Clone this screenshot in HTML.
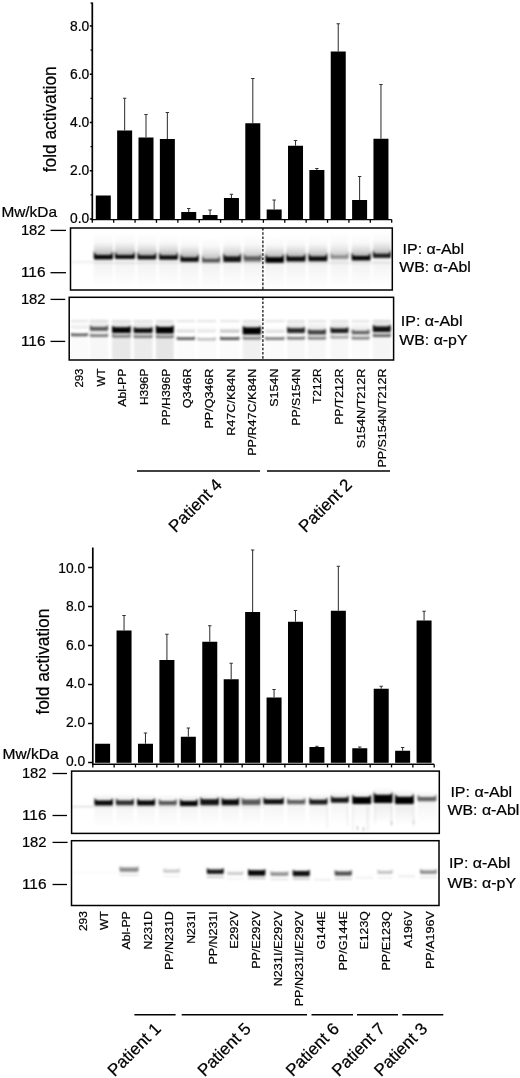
<!DOCTYPE html>
<html lang="en"><head><meta charset="utf-8"><title>Abl mutants: fold activation and Western blots</title>
<style>html,body{margin:0;padding:0;background:#fff}svg{display:block}text{font-family:"Liberation Sans", Arial, Helvetica, sans-serif;fill:#000;stroke:#000;stroke-width:0.22px}</style></head><body>
<svg width="520" height="1078" viewBox="0 0 520 1078">
<rect width="520" height="1078" fill="#fff"/>
<defs>
<filter id="b1" x="-5%" y="-5%" width="110%" height="110%"><feGaussianBlur stdDeviation="0.9"/></filter>
<linearGradient id="gup" x1="0" y1="0" x2="0" y2="1"><stop offset="0" stop-color="#000" stop-opacity="0"/><stop offset="0.55" stop-color="#000" stop-opacity="0.35"/><stop offset="1" stop-color="#000" stop-opacity="1"/></linearGradient>
<linearGradient id="gdn" x1="0" y1="0" x2="0" y2="1"><stop offset="0" stop-color="#000" stop-opacity="1"/><stop offset="1" stop-color="#000" stop-opacity="0"/></linearGradient>
</defs>
<g id="chart-top">
<line x1="92.3" y1="2.5" x2="92.3" y2="220.25" stroke="#000" stroke-width="1.7"/>
<line x1="91.5" y1="219.6" x2="391.7" y2="219.6" stroke="#000" stroke-width="1.4"/>
<line x1="89.8" y1="219.0" x2="92.3" y2="219.0" stroke="#000" stroke-width="1.5"/>
<text x="89.2" y="223.2" font-size="13.8" text-anchor="end">0.0</text>
<line x1="89.8" y1="170.74" x2="92.3" y2="170.74" stroke="#000" stroke-width="1.5"/>
<text x="89.2" y="175.26" font-size="13.8" text-anchor="end">2.0</text>
<line x1="89.8" y1="122.48" x2="92.3" y2="122.48" stroke="#000" stroke-width="1.5"/>
<text x="89.2" y="127.32" font-size="13.8" text-anchor="end">4.0</text>
<line x1="89.8" y1="74.22" x2="92.3" y2="74.22" stroke="#000" stroke-width="1.5"/>
<text x="89.2" y="79.38" font-size="13.8" text-anchor="end">6.0</text>
<line x1="89.8" y1="25.960000000000008" x2="92.3" y2="25.960000000000008" stroke="#000" stroke-width="1.5"/>
<text x="89.2" y="31.44" font-size="13.8" text-anchor="end">8.0</text>
<line x1="90.5" y1="194.87" x2="92.3" y2="194.87" stroke="#000" stroke-width="1.2"/>
<line x1="90.5" y1="146.61" x2="92.3" y2="146.61" stroke="#000" stroke-width="1.2"/>
<line x1="90.5" y1="98.35000000000001" x2="92.3" y2="98.35000000000001" stroke="#000" stroke-width="1.2"/>
<line x1="90.5" y1="50.09" x2="92.3" y2="50.09" stroke="#000" stroke-width="1.2"/>
<line x1="90.5" y1="3.1" x2="92.3" y2="3.1" stroke="#000" stroke-width="1.2"/>
<line x1="92.3" y1="219.6" x2="92.3" y2="222.79999999999998" stroke="#000" stroke-width="1.3"/>
<line x1="113.69" y1="219.6" x2="113.69" y2="222.79999999999998" stroke="#000" stroke-width="1.3"/>
<line x1="135.07" y1="219.6" x2="135.07" y2="222.79999999999998" stroke="#000" stroke-width="1.3"/>
<line x1="156.46" y1="219.6" x2="156.46" y2="222.79999999999998" stroke="#000" stroke-width="1.3"/>
<line x1="177.84" y1="219.6" x2="177.84" y2="222.79999999999998" stroke="#000" stroke-width="1.3"/>
<line x1="199.23" y1="219.6" x2="199.23" y2="222.79999999999998" stroke="#000" stroke-width="1.3"/>
<line x1="220.61" y1="219.6" x2="220.61" y2="222.79999999999998" stroke="#000" stroke-width="1.3"/>
<line x1="242.0" y1="219.6" x2="242.0" y2="222.79999999999998" stroke="#000" stroke-width="1.3"/>
<line x1="263.39" y1="219.6" x2="263.39" y2="222.79999999999998" stroke="#000" stroke-width="1.3"/>
<line x1="284.77" y1="219.6" x2="284.77" y2="222.79999999999998" stroke="#000" stroke-width="1.3"/>
<line x1="306.16" y1="219.6" x2="306.16" y2="222.79999999999998" stroke="#000" stroke-width="1.3"/>
<line x1="327.54" y1="219.6" x2="327.54" y2="222.79999999999998" stroke="#000" stroke-width="1.3"/>
<line x1="348.93" y1="219.6" x2="348.93" y2="222.79999999999998" stroke="#000" stroke-width="1.3"/>
<line x1="370.31" y1="219.6" x2="370.31" y2="222.79999999999998" stroke="#000" stroke-width="1.3"/>
<line x1="391.7" y1="219.6" x2="391.7" y2="222.79999999999998" stroke="#000" stroke-width="1.3"/>
<rect x="95.78" y="195.5" width="15" height="23.80" fill="#000"/>
<rect x="117.14" y="130.5" width="15" height="88.80" fill="#000"/>
<line x1="124.64" y1="98.25" x2="124.64" y2="130.5" stroke="#333" stroke-width="1.05"/>
<line x1="122.94" y1="98.25" x2="126.34" y2="98.25" stroke="#333" stroke-width="1.0"/>
<rect x="138.50" y="137.5" width="15" height="81.80" fill="#000"/>
<line x1="146.0" y1="114.5" x2="146.0" y2="137.5" stroke="#333" stroke-width="1.05"/>
<line x1="144.3" y1="114.5" x2="147.7" y2="114.5" stroke="#333" stroke-width="1.0"/>
<rect x="159.86" y="139" width="15" height="80.30" fill="#000"/>
<line x1="167.36" y1="112.5" x2="167.36" y2="139" stroke="#333" stroke-width="1.05"/>
<line x1="165.66" y1="112.5" x2="169.06" y2="112.5" stroke="#333" stroke-width="1.0"/>
<rect x="181.22" y="212" width="15" height="7.30" fill="#000"/>
<line x1="188.72" y1="208.5" x2="188.72" y2="212" stroke="#333" stroke-width="1.05"/>
<line x1="187.02" y1="208.5" x2="190.42" y2="208.5" stroke="#333" stroke-width="1.0"/>
<rect x="202.58" y="215" width="15" height="4.30" fill="#000"/>
<line x1="210.08" y1="210" x2="210.08" y2="215" stroke="#333" stroke-width="1.05"/>
<line x1="208.38" y1="210" x2="211.78" y2="210" stroke="#333" stroke-width="1.0"/>
<rect x="223.94" y="198" width="15" height="21.30" fill="#000"/>
<line x1="231.44" y1="194.25" x2="231.44" y2="198" stroke="#333" stroke-width="1.05"/>
<line x1="229.74" y1="194.25" x2="233.14" y2="194.25" stroke="#333" stroke-width="1.0"/>
<rect x="245.30" y="123.25" width="15" height="96.05" fill="#000"/>
<line x1="252.8" y1="78.5" x2="252.8" y2="123.25" stroke="#333" stroke-width="1.05"/>
<line x1="251.1" y1="78.5" x2="254.5" y2="78.5" stroke="#333" stroke-width="1.0"/>
<rect x="266.66" y="209.5" width="15" height="9.80" fill="#000"/>
<line x1="274.16" y1="200" x2="274.16" y2="209.5" stroke="#333" stroke-width="1.05"/>
<line x1="272.46" y1="200" x2="275.86" y2="200" stroke="#333" stroke-width="1.0"/>
<rect x="288.02" y="145.75" width="15" height="73.55" fill="#000"/>
<line x1="295.52" y1="140.5" x2="295.52" y2="145.75" stroke="#333" stroke-width="1.05"/>
<line x1="293.82" y1="140.5" x2="297.22" y2="140.5" stroke="#333" stroke-width="1.0"/>
<rect x="309.38" y="170" width="15" height="49.30" fill="#000"/>
<line x1="316.88" y1="168.5" x2="316.88" y2="170" stroke="#333" stroke-width="1.05"/>
<line x1="315.18" y1="168.5" x2="318.58" y2="168.5" stroke="#333" stroke-width="1.0"/>
<rect x="330.74" y="51.5" width="15" height="167.80" fill="#000"/>
<line x1="338.24" y1="23.75" x2="338.24" y2="51.5" stroke="#333" stroke-width="1.05"/>
<line x1="336.54" y1="23.75" x2="339.94" y2="23.75" stroke="#333" stroke-width="1.0"/>
<rect x="352.10" y="200" width="15" height="19.30" fill="#000"/>
<line x1="359.6" y1="176.5" x2="359.6" y2="200" stroke="#333" stroke-width="1.05"/>
<line x1="357.9" y1="176.5" x2="361.3" y2="176.5" stroke="#333" stroke-width="1.0"/>
<rect x="373.46" y="138.75" width="15" height="80.55" fill="#000"/>
<line x1="380.96" y1="84.5" x2="380.96" y2="138.75" stroke="#333" stroke-width="1.05"/>
<line x1="379.26" y1="84.5" x2="382.66" y2="84.5" stroke="#333" stroke-width="1.0"/>
<text transform="translate(56.2 172.3) rotate(-90)" font-size="17.7" text-anchor="start" textLength="106" lengthAdjust="spacingAndGlyphs">fold activation</text>
<text x="1.4" y="216.7" font-size="14.6" text-anchor="start" textLength="55.6" lengthAdjust="spacingAndGlyphs">Mw/kDa</text>
</g>
<g id="blot-top-1">
<clipPath id="cp1"><rect x="70.5" y="228" width="321.8" height="62"/></clipPath>
<g clip-path="url(#cp1)"><g filter="url(#b1)">
<rect x="93.8" y="232.3" width="19.2" height="25" fill="url(#gup)" opacity="0.10"/>
<rect x="93.80" y="242.30" width="19.200000000000003" height="15" fill="url(#gup)" opacity="0.33"/>
<rect x="93.80" y="257.30" width="19.200000000000003" height="30" fill="url(#gdn)" opacity="0.06"/>
<path d="M93.80 250.85 Q94.70 255.05 97.40 255.05 L109.40 255.05 Q112.10 255.05 113.00 250.85 L113.00 258.55 Q113.00 259.55 112.00 259.55 L94.80 259.55 Q93.80 259.55 93.80 258.55 Z" fill="#000" opacity="0.97"/>
<rect x="114.8" y="231.9" width="20.2" height="25" fill="url(#gup)" opacity="0.10"/>
<rect x="114.80" y="241.90" width="20.200000000000003" height="15" fill="url(#gup)" opacity="0.32"/>
<rect x="114.80" y="256.90" width="20.200000000000003" height="30" fill="url(#gdn)" opacity="0.06"/>
<path d="M114.80 250.70 Q115.70 254.90 118.40 254.90 L131.40 254.90 Q134.10 254.90 135.00 250.70 L135.00 257.90 Q135.00 258.90 134.00 258.90 L115.80 258.90 Q114.80 258.90 114.80 257.90 Z" fill="#000" opacity="0.93"/>
<rect x="137.4" y="232.5" width="19.0" height="25" fill="url(#gup)" opacity="0.10"/>
<rect x="137.40" y="242.50" width="19.0" height="15" fill="url(#gup)" opacity="0.32"/>
<rect x="137.40" y="257.50" width="19.0" height="30" fill="url(#gdn)" opacity="0.06"/>
<path d="M137.40 251.30 Q138.30 255.50 141.00 255.50 L152.80 255.50 Q155.50 255.50 156.40 251.30 L156.40 258.50 Q156.40 259.50 155.40 259.50 L138.40 259.50 Q137.40 259.50 137.40 258.50 Z" fill="#000" opacity="0.93"/>
<rect x="159.0" y="232.7" width="19.0" height="25" fill="url(#gup)" opacity="0.10"/>
<rect x="159.00" y="242.70" width="19" height="15" fill="url(#gup)" opacity="0.33"/>
<rect x="159.00" y="257.70" width="19" height="30" fill="url(#gdn)" opacity="0.06"/>
<path d="M159.00 251.40 Q159.90 255.60 162.60 255.60 L174.40 255.60 Q177.10 255.60 178.00 251.40 L178.00 258.80 Q178.00 259.80 177.00 259.80 L160.00 259.80 Q159.00 259.80 159.00 258.80 Z" fill="#000" opacity="0.95"/>
<rect x="180.3" y="234.6" width="18.5" height="25" fill="url(#gup)" opacity="0.10"/>
<rect x="180.30" y="244.60" width="18.5" height="15" fill="url(#gup)" opacity="0.33"/>
<rect x="180.30" y="259.60" width="18.5" height="30" fill="url(#gdn)" opacity="0.06"/>
<path d="M180.30 253.20 Q181.20 257.40 183.90 257.40 L195.20 257.40 Q197.90 257.40 198.80 253.20 L198.80 260.80 Q198.80 261.80 197.80 261.80 L181.30 261.80 Q180.30 261.80 180.30 260.80 Z" fill="#000" opacity="0.95"/>
<rect x="202.0" y="235.8" width="18.2" height="25" fill="url(#gup)" opacity="0.10"/>
<rect x="202.00" y="245.80" width="18.19999999999999" height="15" fill="url(#gup)" opacity="0.23"/>
<rect x="202.00" y="260.80" width="18.19999999999999" height="30" fill="url(#gdn)" opacity="0.06"/>
<path d="M202.00 254.80 Q202.90 259.00 205.60 259.00 L216.60 259.00 Q219.30 259.00 220.20 254.80 L220.20 261.60 Q220.20 262.60 219.20 262.60 L203.00 262.60 Q202.00 262.60 202.00 261.60 Z" fill="#000" opacity="0.58"/>
<rect x="223.2" y="234.2" width="18.0" height="25" fill="url(#gup)" opacity="0.10"/>
<rect x="223.20" y="244.20" width="18.0" height="15" fill="url(#gup)" opacity="0.31"/>
<rect x="223.20" y="259.20" width="18.0" height="30" fill="url(#gdn)" opacity="0.06"/>
<path d="M223.20 252.20 Q224.10 256.40 226.80 256.40 L237.60 256.40 Q240.30 256.40 241.20 252.20 L241.20 261.00 Q241.20 262.00 240.20 262.00 L224.20 262.00 Q223.20 262.00 223.20 261.00 Z" fill="#000" opacity="0.90"/>
<rect x="243.6" y="234.0" width="18.0" height="25" fill="url(#gup)" opacity="0.10"/>
<rect x="243.60" y="244.00" width="18.00000000000003" height="15" fill="url(#gup)" opacity="0.22"/>
<rect x="243.60" y="259.00" width="18.00000000000003" height="30" fill="url(#gdn)" opacity="0.06"/>
<path d="M243.60 252.20 Q244.50 256.40 247.20 256.40 L258.00 256.40 Q260.70 256.40 261.60 252.20 L261.60 260.60 Q261.60 261.60 260.60 261.60 L244.60 261.60 Q243.60 261.60 243.60 260.60 Z" fill="#000" opacity="0.55"/>
<rect x="265.3" y="235.0" width="18.7" height="25" fill="url(#gup)" opacity="0.10"/>
<rect x="265.30" y="245.00" width="18.69999999999999" height="15" fill="url(#gup)" opacity="0.34"/>
<rect x="265.30" y="260.00" width="18.69999999999999" height="30" fill="url(#gdn)" opacity="0.06"/>
<path d="M265.30 253.00 Q266.20 257.20 268.90 257.20 L280.40 257.20 Q283.10 257.20 284.00 253.00 L284.00 261.80 Q284.00 262.80 283.00 262.80 L266.30 262.80 Q265.30 262.80 265.30 261.80 Z" fill="#000" opacity="1.00"/>
<rect x="286.2" y="234.2" width="19.4" height="25" fill="url(#gup)" opacity="0.10"/>
<rect x="286.20" y="244.20" width="19.400000000000034" height="15" fill="url(#gup)" opacity="0.33"/>
<rect x="286.20" y="259.20" width="19.400000000000034" height="30" fill="url(#gdn)" opacity="0.06"/>
<path d="M286.20 252.60 Q287.10 256.80 289.80 256.80 L302.00 256.80 Q304.70 256.80 305.60 252.60 L305.60 260.60 Q305.60 261.60 304.60 261.60 L287.20 261.60 Q286.20 261.60 286.20 260.60 Z" fill="#000" opacity="0.95"/>
<rect x="308.4" y="233.8" width="19.0" height="25" fill="url(#gup)" opacity="0.10"/>
<rect x="308.40" y="243.80" width="19.0" height="15" fill="url(#gup)" opacity="0.33"/>
<rect x="308.40" y="258.80" width="19.0" height="30" fill="url(#gdn)" opacity="0.06"/>
<path d="M308.40 252.20 Q309.30 256.40 312.00 256.40 L323.80 256.40 Q326.50 256.40 327.40 252.20 L327.40 260.20 Q327.40 261.20 326.40 261.20 L309.40 261.20 Q308.40 261.20 308.40 260.20 Z" fill="#000" opacity="0.95"/>
<rect x="330.4" y="232.4" width="18.2" height="25" fill="url(#gup)" opacity="0.10"/>
<rect x="330.40" y="242.40" width="18.200000000000045" height="15" fill="url(#gup)" opacity="0.17"/>
<rect x="330.40" y="257.40" width="18.200000000000045" height="30" fill="url(#gdn)" opacity="0.06"/>
<path d="M330.40 251.30 Q331.30 255.50 334.00 255.50 L345.00 255.50 Q347.70 255.50 348.60 251.30 L348.60 258.30 Q348.60 259.30 347.60 259.30 L331.40 259.30 Q330.40 259.30 330.40 258.30 Z" fill="#000" opacity="0.33"/>
<rect x="351.6" y="233.2" width="19.0" height="25" fill="url(#gup)" opacity="0.10"/>
<rect x="351.60" y="243.20" width="19.0" height="15" fill="url(#gup)" opacity="0.33"/>
<rect x="351.60" y="258.20" width="19.0" height="30" fill="url(#gdn)" opacity="0.06"/>
<path d="M351.60 251.70 Q352.50 255.90 355.20 255.90 L367.00 255.90 Q369.70 255.90 370.60 251.70 L370.60 259.50 Q370.60 260.50 369.60 260.50 L352.60 260.50 Q351.60 260.50 351.60 259.50 Z" fill="#000" opacity="0.97"/>
<rect x="372.8" y="230.8" width="18.2" height="25" fill="url(#gup)" opacity="0.10"/>
<rect x="372.80" y="240.80" width="18.19999999999999" height="15" fill="url(#gup)" opacity="0.30"/>
<rect x="372.80" y="255.80" width="18.19999999999999" height="30" fill="url(#gdn)" opacity="0.06"/>
<path d="M372.80 249.50 Q373.70 253.70 376.40 253.70 L387.40 253.70 Q390.10 253.70 391.00 249.50 L391.00 256.90 Q391.00 257.90 390.00 257.90 L373.80 257.90 Q372.80 257.90 372.80 256.90 Z" fill="#000" opacity="0.85"/>
<rect x="72" y="261.6" width="21" height="1" fill="#000" opacity="0.14"/>
<rect x="93" y="262.4" width="298" height="1" fill="#000" opacity="0.16"/>
</g></g>
<line x1="262.9" y1="228" x2="262.9" y2="290" stroke="#111" stroke-width="1.25" stroke-dasharray="2.6 1.6"/>
<rect x="70.5" y="228" width="321.8" height="62" fill="none" stroke="#000" stroke-width="1.5"/>
<text x="45.5" y="234.9" font-size="14.4" text-anchor="end" textLength="24.6" lengthAdjust="spacingAndGlyphs">182</text><line x1="50.5" y1="230.4" x2="66" y2="230.4" stroke="#000" stroke-width="1.3"/>
<text x="45.5" y="277.2" font-size="14.4" text-anchor="end" textLength="24.6" lengthAdjust="spacingAndGlyphs">116</text><line x1="50.5" y1="272.7" x2="66" y2="272.7" stroke="#000" stroke-width="1.3"/>
<text x="402.6" y="254.0" font-size="15.2" text-anchor="start" textLength="61.4" lengthAdjust="spacingAndGlyphs">IP: α-Abl</text><text x="399.3" y="272.1" font-size="15.2" text-anchor="start" textLength="71.6" lengthAdjust="spacingAndGlyphs">WB: α-Abl</text>
</g>
<g id="blot-top-2">
<clipPath id="cp2"><rect x="69.2" y="297.3" width="324.40000000000003" height="62.69999999999999"/></clipPath>
<g clip-path="url(#cp2)"><g filter="url(#b1)">
<rect x="71.0" y="334.3" width="17.0" height="25.7" fill="#000" opacity="0.015"/>
<rect x="71.0" y="320.2" width="17.0" height="1.8" fill="#000" opacity="0.12"/>
<path d="M71.00 332.80 Q71.90 333.60 74.60 333.60 L84.40 333.60 Q87.10 333.60 88.00 332.80 L88.00 335.20 Q88.00 336.20 87.00 336.20 L72.00 336.20 Q71.00 336.20 71.00 335.20 Z" fill="#000" opacity="0.62"/>
<rect x="71.00" y="321.60" width="17" height="6" fill="url(#gup)" opacity="0.06"/>
<path d="M71.00 326.30 Q71.90 326.80 74.60 326.80 L84.40 326.80 Q87.10 326.80 88.00 326.30 L88.00 327.40 Q88.00 328.40 87.00 328.40 L72.00 328.40 Q71.00 328.40 71.00 327.40 Z" fill="#000" opacity="0.08"/>
<rect x="89.8" y="335.0" width="18.4" height="25.0" fill="#000" opacity="0.030"/>
<rect x="89.8" y="320.2" width="18.4" height="1.8" fill="#000" opacity="0.12"/>
<path d="M89.80 333.50 Q90.70 334.30 93.40 334.30 L104.60 334.30 Q107.30 334.30 108.20 333.50 L108.20 335.90 Q108.20 336.90 107.20 336.90 L90.80 336.90 Q89.80 336.90 89.80 335.90 Z" fill="#000" opacity="0.50"/>
<rect x="89.80" y="317.80" width="18.400000000000006" height="11" fill="url(#gup)" opacity="0.18"/>
<rect x="89.80" y="328.80" width="18.400000000000006" height="6" fill="url(#gdn)" opacity="0.15"/>
<path d="M89.80 325.10 Q90.70 326.90 93.40 326.90 L104.60 326.90 Q107.30 326.90 108.20 325.10 L108.20 329.70 Q108.20 330.70 107.20 330.70 L90.80 330.70 Q89.80 330.70 89.80 329.70 Z" fill="#000" opacity="0.60"/>
<rect x="112.0" y="335.6" width="18.8" height="24.4" fill="#000" opacity="0.090"/>
<rect x="112.0" y="320.2" width="18.8" height="1.8" fill="#000" opacity="0.12"/>
<path d="M112.00 334.10 Q112.90 334.90 115.60 334.90 L127.20 334.90 Q129.90 334.90 130.80 334.10 L130.80 336.50 Q130.80 337.50 129.80 337.50 L113.00 337.50 Q112.00 337.50 112.00 336.50 Z" fill="#000" opacity="0.50"/>
<rect x="112.00" y="319.20" width="18.80000000000001" height="11" fill="url(#gup)" opacity="0.29"/>
<rect x="112.00" y="330.20" width="18.80000000000001" height="6" fill="url(#gdn)" opacity="0.24"/>
<path d="M112.00 325.50 Q112.90 327.30 115.60 327.30 L127.20 327.30 Q129.90 327.30 130.80 325.50 L130.80 332.10 Q130.80 333.10 129.80 333.10 L113.00 333.10 Q112.00 333.10 112.00 332.10 Z" fill="#000" opacity="0.98"/>
<rect x="133.6" y="336.0" width="19.0" height="24.0" fill="#000" opacity="0.080"/>
<rect x="133.6" y="320.2" width="19.0" height="1.8" fill="#000" opacity="0.12"/>
<path d="M133.60 334.50 Q134.50 335.30 137.20 335.30 L149.00 335.30 Q151.70 335.30 152.60 334.50 L152.60 336.90 Q152.60 337.90 151.60 337.90 L134.60 337.90 Q133.60 337.90 133.60 336.90 Z" fill="#000" opacity="0.48"/>
<rect x="133.60" y="319.60" width="19.0" height="11" fill="url(#gup)" opacity="0.28"/>
<rect x="133.60" y="330.60" width="19.0" height="6" fill="url(#gdn)" opacity="0.23"/>
<path d="M133.60 326.50 Q134.50 328.30 137.20 328.30 L149.00 328.30 Q151.70 328.30 152.60 326.50 L152.60 331.90 Q152.60 332.90 151.60 332.90 L134.60 332.90 Q133.60 332.90 133.60 331.90 Z" fill="#000" opacity="0.93"/>
<rect x="155.8" y="336.2" width="18.0" height="23.8" fill="#000" opacity="0.100"/>
<rect x="155.8" y="320.2" width="18.0" height="1.8" fill="#000" opacity="0.12"/>
<path d="M155.80 334.70 Q156.70 335.50 159.40 335.50 L170.20 335.50 Q172.90 335.50 173.80 334.70 L173.80 337.10 Q173.80 338.10 172.80 338.10 L156.80 338.10 Q155.80 338.10 155.80 337.10 Z" fill="#000" opacity="0.50"/>
<rect x="155.80" y="319.20" width="18.0" height="11" fill="url(#gup)" opacity="0.30"/>
<rect x="155.80" y="330.20" width="18.0" height="6" fill="url(#gdn)" opacity="0.25"/>
<path d="M155.80 325.10 Q156.70 326.90 159.40 326.90 L170.20 326.90 Q172.90 326.90 173.80 325.10 L173.80 332.50 Q173.80 333.50 172.80 333.50 L156.80 333.50 Q155.80 333.50 155.80 332.50 Z" fill="#000" opacity="1.00"/>
<rect x="176.7" y="338.0" width="18.3" height="22.0" fill="#000" opacity="0.015"/>
<rect x="176.7" y="320.2" width="18.3" height="1.8" fill="#000" opacity="0.12"/>
<path d="M176.70 336.50 Q177.60 337.30 180.30 337.30 L191.40 337.30 Q194.10 337.30 195.00 336.50 L195.00 338.90 Q195.00 339.90 194.00 339.90 L177.70 339.90 Q176.70 339.90 176.70 338.90 Z" fill="#000" opacity="0.62"/>
<rect x="176.70" y="325.30" width="18.30000000000001" height="6" fill="url(#gup)" opacity="0.06"/>
<path d="M176.70 329.50 Q177.60 330.00 180.30 330.00 L191.40 330.00 Q194.10 330.00 195.00 329.50 L195.00 331.60 Q195.00 332.60 194.00 332.60 L177.70 332.60 Q176.70 332.60 176.70 331.60 Z" fill="#000" opacity="0.12"/>
<rect x="197.2" y="338.6" width="18.8" height="21.4" fill="#000" opacity="0.015"/>
<rect x="197.2" y="320.2" width="18.8" height="1.8" fill="#000" opacity="0.12"/>
<path d="M197.20 337.10 Q198.10 337.90 200.80 337.90 L212.40 337.90 Q215.10 337.90 216.00 337.10 L216.00 339.50 Q216.00 340.50 215.00 340.50 L198.20 340.50 Q197.20 340.50 197.20 339.50 Z" fill="#000" opacity="0.25"/>
<rect x="197.20" y="325.30" width="18.80000000000001" height="6" fill="url(#gup)" opacity="0.06"/>
<path d="M197.20 329.50 Q198.10 330.00 200.80 330.00 L212.40 330.00 Q215.10 330.00 216.00 329.50 L216.00 331.60 Q216.00 332.60 215.00 332.60 L198.20 332.60 Q197.20 332.60 197.20 331.60 Z" fill="#000" opacity="0.07"/>
<rect x="220.0" y="338.0" width="19.5" height="22.0" fill="#000" opacity="0.015"/>
<rect x="220.0" y="320.2" width="19.5" height="1.8" fill="#000" opacity="0.12"/>
<path d="M220.00 336.50 Q220.90 337.30 223.60 337.30 L235.90 337.30 Q238.60 337.30 239.50 336.50 L239.50 338.90 Q239.50 339.90 238.50 339.90 L221.00 339.90 Q220.00 339.90 220.00 338.90 Z" fill="#000" opacity="0.66"/>
<rect x="220.00" y="325.30" width="19.5" height="6" fill="url(#gup)" opacity="0.06"/>
<path d="M220.00 329.30 Q220.90 329.80 223.60 329.80 L235.90 329.80 Q238.60 329.80 239.50 329.30 L239.50 331.80 Q239.50 332.80 238.50 332.80 L221.00 332.80 Q220.00 332.80 220.00 331.80 Z" fill="#000" opacity="0.20"/>
<rect x="242.7" y="337.7" width="18.3" height="22.3" fill="#000" opacity="0.060"/>
<rect x="242.7" y="320.2" width="18.3" height="1.8" fill="#000" opacity="0.12"/>
<path d="M242.70 336.20 Q243.60 337.00 246.30 337.00 L257.40 337.00 Q260.10 337.00 261.00 336.20 L261.00 338.60 Q261.00 339.60 260.00 339.60 L243.70 339.60 Q242.70 339.60 242.70 338.60 Z" fill="#000" opacity="0.50"/>
<rect x="242.70" y="320.00" width="18.30000000000001" height="11" fill="url(#gup)" opacity="0.30"/>
<rect x="242.70" y="331.00" width="18.30000000000001" height="6" fill="url(#gdn)" opacity="0.25"/>
<path d="M242.70 325.70 Q243.60 327.50 246.30 327.50 L257.40 327.50 Q260.10 327.50 261.00 325.70 L261.00 333.50 Q261.00 334.50 260.00 334.50 L243.70 334.50 Q242.70 334.50 242.70 333.50 Z" fill="#000" opacity="1.00"/>
<rect x="265.0" y="338.0" width="19.5" height="22.0" fill="#000" opacity="0.015"/>
<rect x="265.0" y="320.2" width="19.5" height="1.8" fill="#000" opacity="0.12"/>
<path d="M265.00 336.50 Q265.90 337.30 268.60 337.30 L280.90 337.30 Q283.60 337.30 284.50 336.50 L284.50 338.90 Q284.50 339.90 283.50 339.90 L266.00 339.90 Q265.00 339.90 265.00 338.90 Z" fill="#000" opacity="0.50"/>
<rect x="265.00" y="325.60" width="19.5" height="6" fill="url(#gup)" opacity="0.06"/>
<path d="M265.00 329.80 Q265.90 330.30 268.60 330.30 L280.90 330.30 Q283.60 330.30 284.50 329.80 L284.50 331.90 Q284.50 332.90 283.50 332.90 L266.00 332.90 Q265.00 332.90 265.00 331.90 Z" fill="#000" opacity="0.10"/>
<rect x="287.0" y="337.7" width="18.0" height="22.3" fill="#000" opacity="0.030"/>
<rect x="287.0" y="320.2" width="18.0" height="1.8" fill="#000" opacity="0.12"/>
<path d="M287.00 336.20 Q287.90 337.00 290.60 337.00 L301.40 337.00 Q304.10 337.00 305.00 336.20 L305.00 338.60 Q305.00 339.60 304.00 339.60 L288.00 339.60 Q287.00 339.60 287.00 338.60 Z" fill="#000" opacity="0.55"/>
<rect x="287.00" y="319.60" width="18" height="11" fill="url(#gup)" opacity="0.24"/>
<rect x="287.00" y="330.60" width="18" height="6" fill="url(#gdn)" opacity="0.20"/>
<path d="M287.00 326.50 Q287.90 328.30 290.60 328.30 L301.40 328.30 Q304.10 328.30 305.00 326.50 L305.00 331.90 Q305.00 332.90 304.00 332.90 L288.00 332.90 Q287.00 332.90 287.00 331.90 Z" fill="#000" opacity="0.80"/>
<rect x="307.8" y="337.7" width="18.2" height="22.3" fill="#000" opacity="0.030"/>
<rect x="307.8" y="320.2" width="18.2" height="1.8" fill="#000" opacity="0.12"/>
<path d="M307.80 336.20 Q308.70 337.00 311.40 337.00 L322.40 337.00 Q325.10 337.00 326.00 336.20 L326.00 338.60 Q326.00 339.60 325.00 339.60 L308.80 339.60 Q307.80 339.60 307.80 338.60 Z" fill="#000" opacity="0.50"/>
<rect x="307.80" y="321.30" width="18.19999999999999" height="11" fill="url(#gup)" opacity="0.21"/>
<rect x="307.80" y="332.30" width="18.19999999999999" height="6" fill="url(#gdn)" opacity="0.17"/>
<path d="M307.80 328.40 Q308.70 330.20 311.40 330.20 L322.40 330.20 Q325.10 330.20 326.00 328.40 L326.00 333.40 Q326.00 334.40 325.00 334.40 L308.80 334.40 Q307.80 334.40 307.80 333.40 Z" fill="#000" opacity="0.70"/>
<rect x="330.5" y="336.6" width="18.0" height="23.4" fill="#000" opacity="0.030"/>
<rect x="330.5" y="320.2" width="18.0" height="1.8" fill="#000" opacity="0.12"/>
<path d="M330.50 335.10 Q331.40 335.90 334.10 335.90 L344.90 335.90 Q347.60 335.90 348.50 335.10 L348.50 337.50 Q348.50 338.50 347.50 338.50 L331.50 338.50 Q330.50 338.50 330.50 337.50 Z" fill="#000" opacity="0.35"/>
<rect x="330.50" y="319.80" width="18.0" height="11" fill="url(#gup)" opacity="0.26"/>
<rect x="330.50" y="330.80" width="18.0" height="6" fill="url(#gdn)" opacity="0.21"/>
<path d="M330.50 326.70 Q331.40 328.50 334.10 328.50 L344.90 328.50 Q347.60 328.50 348.50 326.70 L348.50 332.10 Q348.50 333.10 347.50 333.10 L331.50 333.10 Q330.50 333.10 330.50 332.10 Z" fill="#000" opacity="0.86"/>
<rect x="351.6" y="337.7" width="18.0" height="22.3" fill="#000" opacity="0.020"/>
<rect x="351.6" y="320.2" width="18.0" height="1.8" fill="#000" opacity="0.12"/>
<path d="M351.60 336.20 Q352.50 337.00 355.20 337.00 L366.00 337.00 Q368.70 337.00 369.60 336.20 L369.60 338.60 Q369.60 339.60 368.60 339.60 L352.60 339.60 Q351.60 339.60 351.60 338.60 Z" fill="#000" opacity="0.50"/>
<rect x="351.60" y="321.60" width="18.0" height="11" fill="url(#gup)" opacity="0.17"/>
<rect x="351.60" y="332.60" width="18.0" height="6" fill="url(#gdn)" opacity="0.14"/>
<path d="M351.60 329.10 Q352.50 330.90 355.20 330.90 L366.00 330.90 Q368.70 330.90 369.60 329.10 L369.60 333.30 Q369.60 334.30 368.60 334.30 L352.60 334.30 Q351.60 334.30 351.60 333.30 Z" fill="#000" opacity="0.55"/>
<rect x="372.8" y="335.0" width="18.0" height="25.0" fill="#000" opacity="0.040"/>
<rect x="372.8" y="320.2" width="18.0" height="1.8" fill="#000" opacity="0.12"/>
<path d="M372.80 333.50 Q373.70 334.30 376.40 334.30 L387.20 334.30 Q389.90 334.30 390.80 333.50 L390.80 335.90 Q390.80 336.90 389.80 336.90 L373.80 336.90 Q372.80 336.90 372.80 335.90 Z" fill="#000" opacity="0.60"/>
<rect x="372.80" y="318.20" width="18.0" height="11" fill="url(#gup)" opacity="0.28"/>
<rect x="372.80" y="329.20" width="18.0" height="6" fill="url(#gdn)" opacity="0.23"/>
<path d="M372.80 324.60 Q373.70 326.40 376.40 326.40 L387.20 326.40 Q389.90 326.40 390.80 324.60 L390.80 331.00 Q390.80 332.00 389.80 332.00 L373.80 332.00 Q372.80 332.00 372.80 331.00 Z" fill="#000" opacity="0.92"/>
</g></g>
<line x1="262.9" y1="297.3" x2="262.9" y2="360" stroke="#111" stroke-width="1.25" stroke-dasharray="2.6 1.6"/>
<rect x="69.2" y="297.3" width="324.40000000000003" height="62.69999999999999" fill="none" stroke="#000" stroke-width="1.5"/>
<text x="45.5" y="303.9" font-size="14.4" text-anchor="end" textLength="24.6" lengthAdjust="spacingAndGlyphs">182</text><line x1="50.5" y1="299.4" x2="65.2" y2="299.4" stroke="#000" stroke-width="1.3"/>
<text x="45.5" y="345.9" font-size="14.4" text-anchor="end" textLength="24.6" lengthAdjust="spacingAndGlyphs">116</text><line x1="50.5" y1="341.4" x2="65.2" y2="341.4" stroke="#000" stroke-width="1.3"/>
<text x="400.8" y="325.6" font-size="15.2" text-anchor="start" textLength="61.7" lengthAdjust="spacingAndGlyphs">IP: α-Abl</text><text x="399.3" y="345.0" font-size="15.2" text-anchor="start" textLength="68.2" lengthAdjust="spacingAndGlyphs">WB: α-pY</text>
</g>
<g id="lanes-top">
<text transform="translate(83.0 368.6) rotate(-90)" font-size="11.6" text-anchor="end" textLength="18.9" lengthAdjust="spacingAndGlyphs">293</text>
<text transform="translate(104.66 368.6) rotate(-90)" font-size="11.6" text-anchor="end" textLength="17.8" lengthAdjust="spacingAndGlyphs">WT</text>
<text transform="translate(126.32 368.6) rotate(-90)" font-size="11.6" text-anchor="end" textLength="38.1" lengthAdjust="spacingAndGlyphs">Abl-PP</text>
<text transform="translate(147.98 368.6) rotate(-90)" font-size="11.6" text-anchor="end" textLength="36.4" lengthAdjust="spacingAndGlyphs">H396P</text>
<text transform="translate(169.64 368.6) rotate(-90)" font-size="11.6" text-anchor="end" textLength="57.0" lengthAdjust="spacingAndGlyphs">PP/H396P</text>
<text transform="translate(191.3 368.6) rotate(-90)" font-size="11.6" text-anchor="end" textLength="39.6" lengthAdjust="spacingAndGlyphs">Q346R</text>
<text transform="translate(212.96 368.6) rotate(-90)" font-size="11.6" text-anchor="end" textLength="60.0" lengthAdjust="spacingAndGlyphs">PP/Q346R</text>
<text transform="translate(234.62 368.6) rotate(-90)" font-size="11.6" text-anchor="end" textLength="67.2" lengthAdjust="spacingAndGlyphs">R47C/K84N</text>
<text transform="translate(256.28 368.6) rotate(-90)" font-size="11.6" text-anchor="end" textLength="87.2" lengthAdjust="spacingAndGlyphs">PP/R47C/K84N</text>
<text transform="translate(277.94 368.6) rotate(-90)" font-size="11.6" text-anchor="end" textLength="38.1" lengthAdjust="spacingAndGlyphs">S154N</text>
<text transform="translate(299.6 368.6) rotate(-90)" font-size="11.6" text-anchor="end" textLength="57.2" lengthAdjust="spacingAndGlyphs">PP/S154N</text>
<text transform="translate(321.26 368.6) rotate(-90)" font-size="11.6" text-anchor="end" textLength="35.1" lengthAdjust="spacingAndGlyphs">T212R</text>
<text transform="translate(342.92 368.6) rotate(-90)" font-size="11.6" text-anchor="end" textLength="56.2" lengthAdjust="spacingAndGlyphs">PP/T212R</text>
<text transform="translate(364.58 368.6) rotate(-90)" font-size="11.6" text-anchor="end" textLength="79.7" lengthAdjust="spacingAndGlyphs">S154N/T212R</text>
<text transform="translate(386.24 368.6) rotate(-90)" font-size="11.6" text-anchor="end" textLength="99.0" lengthAdjust="spacingAndGlyphs">PP/S154N/T212R</text>
</g>
<g id="patients-top">
<line x1="137" y1="471" x2="260" y2="471" stroke="#000" stroke-width="1.4"/>
<line x1="267" y1="471" x2="390" y2="471" stroke="#000" stroke-width="1.4"/>
<text transform="translate(175.6 533.2) rotate(-45)" font-size="17" text-anchor="start">Patient 4</text>
<text transform="translate(305.6 533.2) rotate(-45)" font-size="17" text-anchor="start">Patient 2</text>
</g>
<g id="chart-bottom">
<line x1="92.8" y1="547.5" x2="92.8" y2="764.85" stroke="#000" stroke-width="1.7"/>
<line x1="92.0" y1="764.2" x2="434.2" y2="764.2" stroke="#000" stroke-width="1.4"/>
<line x1="88.1" y1="762.5" x2="92.8" y2="762.5" stroke="#000" stroke-width="1.5"/>
<text x="85.1" y="765.5" font-size="13.8" text-anchor="end">0.0</text>
<line x1="88.1" y1="723.5" x2="92.8" y2="723.5" stroke="#000" stroke-width="1.5"/>
<text x="85.1" y="726.96" font-size="13.8" text-anchor="end">2.0</text>
<line x1="88.1" y1="684.5" x2="92.8" y2="684.5" stroke="#000" stroke-width="1.5"/>
<text x="85.1" y="688.42" font-size="13.8" text-anchor="end">4.0</text>
<line x1="88.1" y1="645.5" x2="92.8" y2="645.5" stroke="#000" stroke-width="1.5"/>
<text x="85.1" y="649.88" font-size="13.8" text-anchor="end">6.0</text>
<line x1="88.1" y1="606.5" x2="92.8" y2="606.5" stroke="#000" stroke-width="1.5"/>
<text x="85.1" y="611.34" font-size="13.8" text-anchor="end">8.0</text>
<line x1="88.1" y1="567.5" x2="92.8" y2="567.5" stroke="#000" stroke-width="1.5"/>
<text x="85.1" y="572.8" font-size="13.8" text-anchor="end">10.0</text>
<line x1="92.8" y1="764.2" x2="92.8" y2="767.4000000000001" stroke="#000" stroke-width="1.3"/>
<line x1="114.14" y1="764.2" x2="114.14" y2="767.4000000000001" stroke="#000" stroke-width="1.3"/>
<line x1="135.47" y1="764.2" x2="135.47" y2="767.4000000000001" stroke="#000" stroke-width="1.3"/>
<line x1="156.81" y1="764.2" x2="156.81" y2="767.4000000000001" stroke="#000" stroke-width="1.3"/>
<line x1="178.15" y1="764.2" x2="178.15" y2="767.4000000000001" stroke="#000" stroke-width="1.3"/>
<line x1="199.49" y1="764.2" x2="199.49" y2="767.4000000000001" stroke="#000" stroke-width="1.3"/>
<line x1="220.82" y1="764.2" x2="220.82" y2="767.4000000000001" stroke="#000" stroke-width="1.3"/>
<line x1="242.16" y1="764.2" x2="242.16" y2="767.4000000000001" stroke="#000" stroke-width="1.3"/>
<line x1="263.5" y1="764.2" x2="263.5" y2="767.4000000000001" stroke="#000" stroke-width="1.3"/>
<line x1="284.84" y1="764.2" x2="284.84" y2="767.4000000000001" stroke="#000" stroke-width="1.3"/>
<line x1="306.18" y1="764.2" x2="306.18" y2="767.4000000000001" stroke="#000" stroke-width="1.3"/>
<line x1="327.51" y1="764.2" x2="327.51" y2="767.4000000000001" stroke="#000" stroke-width="1.3"/>
<line x1="348.85" y1="764.2" x2="348.85" y2="767.4000000000001" stroke="#000" stroke-width="1.3"/>
<line x1="370.19" y1="764.2" x2="370.19" y2="767.4000000000001" stroke="#000" stroke-width="1.3"/>
<line x1="391.52" y1="764.2" x2="391.52" y2="767.4000000000001" stroke="#000" stroke-width="1.3"/>
<line x1="412.86" y1="764.2" x2="412.86" y2="767.4000000000001" stroke="#000" stroke-width="1.3"/>
<line x1="434.2" y1="764.2" x2="434.2" y2="767.4000000000001" stroke="#000" stroke-width="1.3"/>
<rect x="95.12" y="743.75" width="15" height="19.05" fill="#000"/>
<rect x="116.55" y="630.5" width="15" height="132.30" fill="#000"/>
<line x1="124.05" y1="615.5" x2="124.05" y2="630.5" stroke="#333" stroke-width="1.05"/>
<line x1="122.34" y1="615.5" x2="125.75" y2="615.5" stroke="#333" stroke-width="1.0"/>
<rect x="137.98" y="743.75" width="15" height="19.05" fill="#000"/>
<line x1="145.48" y1="733" x2="145.48" y2="743.75" stroke="#333" stroke-width="1.05"/>
<line x1="143.78" y1="733" x2="147.18" y2="733" stroke="#333" stroke-width="1.0"/>
<rect x="159.41" y="660" width="15" height="102.80" fill="#000"/>
<line x1="166.91" y1="634.25" x2="166.91" y2="660" stroke="#333" stroke-width="1.05"/>
<line x1="165.21" y1="634.25" x2="168.6" y2="634.25" stroke="#333" stroke-width="1.0"/>
<rect x="180.84" y="736.75" width="15" height="26.05" fill="#000"/>
<line x1="188.34" y1="728" x2="188.34" y2="736.75" stroke="#333" stroke-width="1.05"/>
<line x1="186.64" y1="728" x2="190.03" y2="728" stroke="#333" stroke-width="1.0"/>
<rect x="202.26" y="641.75" width="15" height="121.05" fill="#000"/>
<line x1="209.76" y1="625.75" x2="209.76" y2="641.75" stroke="#333" stroke-width="1.05"/>
<line x1="208.06" y1="625.75" x2="211.46" y2="625.75" stroke="#333" stroke-width="1.0"/>
<rect x="223.69" y="679.25" width="15" height="83.55" fill="#000"/>
<line x1="231.19" y1="663.25" x2="231.19" y2="679.25" stroke="#333" stroke-width="1.05"/>
<line x1="229.5" y1="663.25" x2="232.89" y2="663.25" stroke="#333" stroke-width="1.0"/>
<rect x="245.12" y="612" width="15" height="150.80" fill="#000"/>
<line x1="252.62" y1="550" x2="252.62" y2="612" stroke="#333" stroke-width="1.05"/>
<line x1="250.93" y1="550" x2="254.32" y2="550" stroke="#333" stroke-width="1.0"/>
<rect x="266.56" y="697.5" width="15" height="65.30" fill="#000"/>
<line x1="274.06" y1="689.5" x2="274.06" y2="697.5" stroke="#333" stroke-width="1.05"/>
<line x1="272.36" y1="689.5" x2="275.75" y2="689.5" stroke="#333" stroke-width="1.0"/>
<rect x="287.99" y="621.75" width="15" height="141.05" fill="#000"/>
<line x1="295.49" y1="610.5" x2="295.49" y2="621.75" stroke="#333" stroke-width="1.05"/>
<line x1="293.79" y1="610.5" x2="297.19" y2="610.5" stroke="#333" stroke-width="1.0"/>
<rect x="309.41" y="747" width="15" height="15.80" fill="#000"/>
<line x1="316.91" y1="746.3" x2="316.91" y2="747" stroke="#333" stroke-width="1.05"/>
<line x1="315.21" y1="746.3" x2="318.61" y2="746.3" stroke="#333" stroke-width="1.0"/>
<rect x="330.85" y="610.75" width="15" height="152.05" fill="#000"/>
<line x1="338.35" y1="566.25" x2="338.35" y2="610.75" stroke="#333" stroke-width="1.05"/>
<line x1="336.65" y1="566.25" x2="340.05" y2="566.25" stroke="#333" stroke-width="1.0"/>
<rect x="352.27" y="748.25" width="15" height="14.55" fill="#000"/>
<line x1="359.77" y1="747" x2="359.77" y2="748.25" stroke="#333" stroke-width="1.05"/>
<line x1="358.07" y1="747" x2="361.47" y2="747" stroke="#333" stroke-width="1.0"/>
<rect x="373.71" y="688.75" width="15" height="74.05" fill="#000"/>
<line x1="381.21" y1="686.25" x2="381.21" y2="688.75" stroke="#333" stroke-width="1.05"/>
<line x1="379.51" y1="686.25" x2="382.91" y2="686.25" stroke="#333" stroke-width="1.0"/>
<rect x="395.13" y="750.75" width="15" height="12.05" fill="#000"/>
<line x1="402.63" y1="747.5" x2="402.63" y2="750.75" stroke="#333" stroke-width="1.05"/>
<line x1="400.94" y1="747.5" x2="404.33" y2="747.5" stroke="#333" stroke-width="1.0"/>
<rect x="416.57" y="620.5" width="15" height="142.30" fill="#000"/>
<line x1="424.07" y1="611.25" x2="424.07" y2="620.5" stroke="#333" stroke-width="1.05"/>
<line x1="422.37" y1="611.25" x2="425.77" y2="611.25" stroke="#333" stroke-width="1.0"/>
<text transform="translate(49.3 714.6) rotate(-90)" font-size="17.7" text-anchor="start" textLength="106" lengthAdjust="spacingAndGlyphs">fold activation</text>
<text x="2.5" y="759.1" font-size="14.6" text-anchor="start" textLength="56" lengthAdjust="spacingAndGlyphs">Mw/kDa</text>
</g>
<g id="blot-bottom-1">
<clipPath id="cp3"><rect x="71.6" y="771.1" width="367.70000000000005" height="62.299999999999955"/></clipPath>
<g clip-path="url(#cp3)"><g filter="url(#b1)">
<rect x="94.40" y="794.00" width="18.599999999999994" height="9" fill="url(#gup)" opacity="0.21"/>
<rect x="94.40" y="803.00" width="18.599999999999994" height="25" fill="url(#gdn)" opacity="0.05"/>
<path d="M94.40 797.50 Q95.30 800.50 98.00 800.50 L109.40 800.50 Q112.10 800.50 113.00 797.50 L113.00 804.50 Q113.00 805.50 112.00 805.50 L95.40 805.50 Q94.40 805.50 94.40 804.50 Z" fill="#000" opacity="0.96"/>
<rect x="115.80" y="793.80" width="18.200000000000003" height="9" fill="url(#gup)" opacity="0.18"/>
<rect x="115.80" y="802.80" width="18.200000000000003" height="25" fill="url(#gdn)" opacity="0.05"/>
<path d="M115.80 797.40 Q116.70 800.40 119.40 800.40 L130.40 800.40 Q133.10 800.40 134.00 797.40 L134.00 804.20 Q134.00 805.20 133.00 805.20 L116.80 805.20 Q115.80 805.20 115.80 804.20 Z" fill="#000" opacity="0.80"/>
<rect x="137.00" y="794.00" width="18.19999999999999" height="9" fill="url(#gup)" opacity="0.21"/>
<rect x="137.00" y="803.00" width="18.19999999999999" height="25" fill="url(#gdn)" opacity="0.05"/>
<path d="M137.00 797.40 Q137.90 800.40 140.60 800.40 L151.60 800.40 Q154.30 800.40 155.20 797.40 L155.20 804.60 Q155.20 805.60 154.20 805.60 L138.00 805.60 Q137.00 805.60 137.00 804.60 Z" fill="#000" opacity="0.97"/>
<rect x="158.60" y="794.20" width="18.200000000000017" height="9" fill="url(#gup)" opacity="0.14"/>
<rect x="158.60" y="803.20" width="18.200000000000017" height="25" fill="url(#gdn)" opacity="0.05"/>
<path d="M158.60 798.10 Q159.50 801.10 162.20 801.10 L173.20 801.10 Q175.90 801.10 176.80 798.10 L176.80 804.30 Q176.80 805.30 175.80 805.30 L159.60 805.30 Q158.60 805.30 158.60 804.30 Z" fill="#000" opacity="0.62"/>
<rect x="179.80" y="794.40" width="18.0" height="9" fill="url(#gup)" opacity="0.21"/>
<rect x="179.80" y="803.40" width="18.0" height="25" fill="url(#gdn)" opacity="0.05"/>
<path d="M179.80 797.90 Q180.70 800.90 183.40 800.90 L194.20 800.90 Q196.90 800.90 197.80 797.90 L197.80 804.90 Q197.80 805.90 196.80 805.90 L180.80 805.90 Q179.80 805.90 179.80 804.90 Z" fill="#000" opacity="0.97"/>
<rect x="200.20" y="793.20" width="18.80000000000001" height="9" fill="url(#gup)" opacity="0.20"/>
<rect x="200.20" y="802.20" width="18.80000000000001" height="25" fill="url(#gdn)" opacity="0.05"/>
<path d="M200.20 796.20 Q201.10 799.20 203.80 799.20 L215.40 799.20 Q218.10 799.20 219.00 796.20 L219.00 804.20 Q219.00 805.20 218.00 805.20 L201.20 805.20 Q200.20 805.20 200.20 804.20 Z" fill="#000" opacity="0.92"/>
<rect x="221.50" y="793.40" width="17.69999999999999" height="9" fill="url(#gup)" opacity="0.21"/>
<rect x="221.50" y="802.40" width="17.69999999999999" height="25" fill="url(#gdn)" opacity="0.05"/>
<path d="M221.50 796.50 Q222.40 799.50 225.10 799.50 L235.60 799.50 Q238.30 799.50 239.20 796.50 L239.20 804.30 Q239.20 805.30 238.20 805.30 L222.50 805.30 Q221.50 805.30 221.50 804.30 Z" fill="#000" opacity="0.95"/>
<rect x="241.60" y="793.30" width="19.00000000000003" height="9" fill="url(#gup)" opacity="0.14"/>
<rect x="241.60" y="802.30" width="19.00000000000003" height="25" fill="url(#gdn)" opacity="0.05"/>
<path d="M241.60 796.50 Q242.50 799.50 245.20 799.50 L257.00 799.50 Q259.70 799.50 260.60 796.50 L260.60 804.10 Q260.60 805.10 259.60 805.10 L242.60 805.10 Q241.60 805.10 241.60 804.10 Z" fill="#000" opacity="0.62"/>
<rect x="263.40" y="792.70" width="20.400000000000034" height="9" fill="url(#gup)" opacity="0.20"/>
<rect x="263.40" y="801.70" width="20.400000000000034" height="25" fill="url(#gdn)" opacity="0.05"/>
<path d="M263.40 796.20 Q264.30 799.20 267.00 799.20 L280.20 799.20 Q282.90 799.20 283.80 796.20 L283.80 803.20 Q283.80 804.20 282.80 804.20 L264.40 804.20 Q263.40 804.20 263.40 803.20 Z" fill="#000" opacity="0.93"/>
<rect x="287.00" y="793.20" width="18.399999999999977" height="9" fill="url(#gup)" opacity="0.13"/>
<rect x="287.00" y="802.20" width="18.399999999999977" height="25" fill="url(#gdn)" opacity="0.05"/>
<path d="M287.00 797.10 Q287.90 800.10 290.60 800.10 L301.80 800.10 Q304.50 800.10 305.40 797.10 L305.40 803.30 Q305.40 804.30 304.40 804.30 L288.00 804.30 Q287.00 804.30 287.00 803.30 Z" fill="#000" opacity="0.58"/>
<rect x="309.20" y="793.20" width="18.400000000000034" height="9" fill="url(#gup)" opacity="0.19"/>
<rect x="309.20" y="802.20" width="18.400000000000034" height="25" fill="url(#gdn)" opacity="0.05"/>
<path d="M309.20 796.80 Q310.10 799.80 312.80 799.80 L324.00 799.80 Q326.70 799.80 327.60 796.80 L327.60 803.60 Q327.60 804.60 326.60 804.60 L310.20 804.60 Q309.20 804.60 309.20 803.60 Z" fill="#000" opacity="0.88"/>
<rect x="330.80" y="791.20" width="18.0" height="9" fill="url(#gup)" opacity="0.20"/>
<rect x="330.80" y="800.20" width="18.0" height="25" fill="url(#gdn)" opacity="0.05"/>
<path d="M330.80 794.70 Q331.70 797.70 334.40 797.70 L345.20 797.70 Q347.90 797.70 348.80 794.70 L348.80 801.70 Q348.80 802.70 347.80 802.70 L331.80 802.70 Q330.80 802.70 330.80 801.70 Z" fill="#000" opacity="0.90"/>
<rect x="352.30" y="791.60" width="18.899999999999977" height="9" fill="url(#gup)" opacity="0.22"/>
<rect x="352.30" y="800.60" width="18.899999999999977" height="25" fill="url(#gdn)" opacity="0.05"/>
<path d="M352.30 794.10 Q353.20 797.10 355.90 797.10 L367.60 797.10 Q370.30 797.10 371.20 794.10 L371.20 803.10 Q371.20 804.10 370.20 804.10 L353.30 804.10 Q352.30 804.10 352.30 803.10 Z" fill="#000" opacity="1.00"/>
<rect x="373.60" y="787.90" width="19.0" height="11" fill="url(#gup)" opacity="0.22"/>
<rect x="373.60" y="798.90" width="19.0" height="25" fill="url(#gdn)" opacity="0.09"/>
<path d="M373.60 791.20 Q374.50 794.80 377.20 794.80 L389.00 794.80 Q391.70 794.80 392.60 791.20 L392.60 802.00 Q392.60 803.00 391.60 803.00 L374.60 803.00 Q373.60 803.00 373.60 802.00 Z" fill="#000" opacity="1.00"/>
<rect x="394.90" y="789.40" width="19.0" height="11" fill="url(#gup)" opacity="0.22"/>
<rect x="394.90" y="800.40" width="19.0" height="25" fill="url(#gdn)" opacity="0.09"/>
<path d="M394.90 793.10 Q395.80 796.70 398.50 796.70 L410.30 796.70 Q413.00 796.70 413.90 793.10 L413.90 803.10 Q413.90 804.10 412.90 804.10 L395.90 804.10 Q394.90 804.10 394.90 803.10 Z" fill="#000" opacity="1.00"/>
<rect x="417.40" y="790.20" width="19.0" height="9" fill="url(#gup)" opacity="0.13"/>
<rect x="417.40" y="799.20" width="19.0" height="25" fill="url(#gdn)" opacity="0.05"/>
<path d="M417.40 794.10 Q418.30 797.10 421.00 797.10 L432.80 797.10 Q435.50 797.10 436.40 794.10 L436.40 800.30 Q436.40 801.30 435.40 801.30 L418.40 801.30 Q417.40 801.30 417.40 800.30 Z" fill="#000" opacity="0.58"/>
<rect x="72" y="806.2" width="22" height="1" fill="#000" opacity="0.2"/>
<rect x="94" y="806.6" width="170" height="0.9" fill="#000" opacity="0.12"/>
<rect x="326.8" y="806" width="1" height="22" fill="#000" opacity="0.1"/>
<rect x="347" y="806" width="1" height="20" fill="#000" opacity="0.08"/>
<rect x="352.4" y="806" width="1" height="25" fill="#000" opacity="0.1"/>
<rect x="367.3" y="806" width="1" height="25" fill="#000" opacity="0.13"/>
<rect x="374.6" y="806" width="1" height="18" fill="#000" opacity="0.08"/>
<rect x="391" y="806" width="1" height="20" fill="#000" opacity="0.1"/>
<rect x="413.3" y="806" width="1" height="20" fill="#000" opacity="0.1"/>
<rect x="357" y="826" width="1" height="4" fill="#000" opacity="0.3"/>
<rect x="363" y="827" width="1" height="4" fill="#000" opacity="0.3"/>
<rect x="391" y="821" width="1" height="4" fill="#000" opacity="0.25"/>
<rect x="413" y="820" width="1" height="4" fill="#000" opacity="0.2"/>
</g></g>
<rect x="71.6" y="771.1" width="367.70000000000005" height="62.299999999999955" fill="none" stroke="#000" stroke-width="1.5"/>
<text x="46.5" y="778.0" font-size="14.4" text-anchor="end" textLength="24.6" lengthAdjust="spacingAndGlyphs">182</text><line x1="52.5" y1="773.5" x2="67" y2="773.5" stroke="#000" stroke-width="1.3"/>
<text x="46.5" y="820.0" font-size="14.4" text-anchor="end" textLength="24.6" lengthAdjust="spacingAndGlyphs">116</text><line x1="52.5" y1="815.5" x2="67" y2="815.5" stroke="#000" stroke-width="1.3"/>
<text x="450.4" y="796.7" font-size="15.2" text-anchor="start" textLength="61.7" lengthAdjust="spacingAndGlyphs">IP: α-Abl</text><text x="447.5" y="815.4" font-size="15.2" text-anchor="start" textLength="71.8" lengthAdjust="spacingAndGlyphs">WB: α-Abl</text>
</g>
<g id="blot-bottom-2">
<clipPath id="cp4"><rect x="71.5" y="840.7" width="367.5" height="64.79999999999995"/></clipPath>
<g clip-path="url(#cp4)"><g filter="url(#b1)">
<rect x="119.50" y="863.80" width="19.0" height="6" fill="url(#gup)" opacity="0.08"/>
<path d="M119.50 866.00 Q120.40 867.60 123.10 867.60 L134.90 867.60 Q137.60 867.60 138.50 866.00 L138.50 871.00 Q138.50 872.00 137.50 872.00 L120.50 872.00 Q119.50 872.00 119.50 871.00 Z" fill="#000" opacity="0.42"/>
<rect x="119.5" y="874.4" width="19.0" height="1.2" fill="#000" opacity="0.15"/>
<rect x="163.30" y="865.20" width="16.5" height="6" fill="url(#gup)" opacity="0.04"/>
<path d="M163.30 868.10 Q164.20 869.70 166.90 869.70 L176.20 869.70 Q178.90 869.70 179.80 868.10 L179.80 871.70 Q179.80 872.70 178.80 872.70 L164.30 872.70 Q163.30 872.70 163.30 871.70 Z" fill="#000" opacity="0.20"/>
<rect x="163.3" y="875.8" width="16.5" height="1.2" fill="#000" opacity="0.07"/>
<rect x="206.80" y="865.70" width="17.0" height="6" fill="url(#gup)" opacity="0.16"/>
<path d="M206.80 867.80 Q207.70 869.40 210.40 869.40 L220.20 869.40 Q222.90 869.40 223.80 867.80 L223.80 873.00 Q223.80 874.00 222.80 874.00 L207.80 874.00 Q206.80 874.00 206.80 873.00 Z" fill="#000" opacity="0.88"/>
<rect x="206.8" y="876.3" width="17.0" height="1.2" fill="#000" opacity="0.32"/>
<rect x="227.40" y="867.60" width="15.900000000000006" height="6" fill="url(#gup)" opacity="0.04"/>
<path d="M227.40 870.70 Q228.30 872.30 231.00 872.30 L239.70 872.30 Q242.40 872.30 243.30 870.70 L243.30 873.90 Q243.30 874.90 242.30 874.90 L228.40 874.90 Q227.40 874.90 227.40 873.90 Z" fill="#000" opacity="0.20"/>
<rect x="227.4" y="878.2" width="15.9" height="1.2" fill="#000" opacity="0.07"/>
<rect x="248.00" y="867.00" width="17.399999999999977" height="6" fill="url(#gup)" opacity="0.17"/>
<path d="M248.00 868.70 Q248.90 870.30 251.60 870.30 L261.80 870.30 Q264.50 870.30 265.40 868.70 L265.40 874.70 Q265.40 875.70 264.40 875.70 L249.00 875.70 Q248.00 875.70 248.00 874.70 Z" fill="#000" opacity="0.97"/>
<rect x="248.0" y="877.6" width="17.4" height="1.2" fill="#000" opacity="0.35"/>
<rect x="270.40" y="868.20" width="18.0" height="6" fill="url(#gup)" opacity="0.07"/>
<path d="M270.40 870.70 Q271.30 872.30 274.00 872.30 L284.80 872.30 Q287.50 872.30 288.40 870.70 L288.40 875.10 Q288.40 876.10 287.40 876.10 L271.40 876.10 Q270.40 876.10 270.40 875.10 Z" fill="#000" opacity="0.40"/>
<rect x="270.4" y="878.8" width="18.0" height="1.2" fill="#000" opacity="0.14"/>
<rect x="292.70" y="867.60" width="17.100000000000023" height="6" fill="url(#gup)" opacity="0.17"/>
<path d="M292.70 869.40 Q293.60 871.00 296.30 871.00 L306.20 871.00 Q308.90 871.00 309.80 869.40 L309.80 875.20 Q309.80 876.20 308.80 876.20 L293.70 876.20 Q292.70 876.20 292.70 875.20 Z" fill="#000" opacity="0.93"/>
<rect x="292.7" y="878.2" width="17.1" height="1.2" fill="#000" opacity="0.33"/>
<rect x="314.00" y="874.00" width="17" height="6" fill="url(#gup)" opacity="0.01"/>
<path d="M314.00 878.60 Q314.90 879.00 317.60 879.00 L327.40 879.00 Q330.10 879.00 331.00 878.60 L331.00 880.00 Q331.00 881.00 330.00 881.00 L315.00 881.00 Q314.00 881.00 314.00 880.00 Z" fill="#000" opacity="0.06"/>
<rect x="334.70" y="867.60" width="17.100000000000023" height="6" fill="url(#gup)" opacity="0.12"/>
<path d="M334.70 869.80 Q335.60 871.40 338.30 871.40 L348.20 871.40 Q350.90 871.40 351.80 869.80 L351.80 874.80 Q351.80 875.80 350.80 875.80 L335.70 875.80 Q334.70 875.80 334.70 874.80 Z" fill="#000" opacity="0.66"/>
<rect x="334.7" y="878.2" width="17.1" height="1.2" fill="#000" opacity="0.24"/>
<rect x="356.00" y="872.00" width="17" height="6" fill="url(#gup)" opacity="0.01"/>
<path d="M356.00 876.60 Q356.90 877.00 359.60 877.00 L369.40 877.00 Q372.10 877.00 373.00 876.60 L373.00 878.00 Q373.00 879.00 372.00 879.00 L357.00 879.00 Q356.00 879.00 356.00 878.00 Z" fill="#000" opacity="0.05"/>
<rect x="377.40" y="866.40" width="15.200000000000045" height="6" fill="url(#gup)" opacity="0.04"/>
<path d="M377.40 869.30 Q378.30 870.90 381.00 870.90 L389.00 870.90 Q391.70 870.90 392.60 869.30 L392.60 872.90 Q392.60 873.90 391.60 873.90 L378.40 873.90 Q377.40 873.90 377.40 872.90 Z" fill="#000" opacity="0.22"/>
<rect x="377.4" y="877.0" width="15.2" height="1.2" fill="#000" opacity="0.08"/>
<rect x="398.00" y="870.50" width="17" height="6" fill="url(#gup)" opacity="0.01"/>
<path d="M398.00 875.10 Q398.90 875.50 401.60 875.50 L411.40 875.50 Q414.10 875.50 415.00 875.10 L415.00 876.50 Q415.00 877.50 414.00 877.50 L399.00 877.50 Q398.00 877.50 398.00 876.50 Z" fill="#000" opacity="0.07"/>
<rect x="420.00" y="866.20" width="16.80000000000001" height="6" fill="url(#gup)" opacity="0.08"/>
<path d="M420.00 868.80 Q420.90 870.40 423.60 870.40 L433.20 870.40 Q435.90 870.40 436.80 868.80 L436.80 873.00 Q436.80 874.00 435.80 874.00 L421.00 874.00 Q420.00 874.00 420.00 873.00 Z" fill="#000" opacity="0.42"/>
<rect x="420.0" y="876.8" width="16.8" height="1.2" fill="#000" opacity="0.15"/>
<rect x="72" y="872.6" width="46" height="0.9" fill="#000" opacity="0.05"/>
</g></g>
<rect x="71.5" y="840.7" width="367.5" height="64.79999999999995" fill="none" stroke="#000" stroke-width="1.5"/>
<text x="46.5" y="846.9" font-size="14.4" text-anchor="end" textLength="24.6" lengthAdjust="spacingAndGlyphs">182</text><line x1="52.5" y1="842.4" x2="67.6" y2="842.4" stroke="#000" stroke-width="1.3"/>
<text x="46.5" y="889.0" font-size="14.4" text-anchor="end" textLength="24.6" lengthAdjust="spacingAndGlyphs">116</text><line x1="52.5" y1="884.5" x2="67" y2="884.5" stroke="#000" stroke-width="1.3"/>
<text x="448.9" y="867.6" font-size="15.2" text-anchor="start" textLength="61.5" lengthAdjust="spacingAndGlyphs">IP: α-Abl</text><text x="447.6" y="888.1" font-size="15.2" text-anchor="start" textLength="68.4" lengthAdjust="spacingAndGlyphs">WB: α-pY</text>
</g>
<g id="lanes-bottom">
<text transform="translate(86.5 911.2) rotate(-90)" font-size="11.6" text-anchor="end" textLength="19.9" lengthAdjust="spacingAndGlyphs">293</text>
<text transform="translate(108.19 911.2) rotate(-90)" font-size="11.6" text-anchor="end" textLength="18.7" lengthAdjust="spacingAndGlyphs">WT</text>
<text transform="translate(129.88 911.2) rotate(-90)" font-size="11.6" text-anchor="end" textLength="38.2" lengthAdjust="spacingAndGlyphs">Abl-PP</text>
<text transform="translate(151.57 911.2) rotate(-90)" font-size="11.6" text-anchor="end" textLength="38.2" lengthAdjust="spacingAndGlyphs">N231D</text>
<text transform="translate(173.26 911.2) rotate(-90)" font-size="11.6" text-anchor="end" textLength="58.8" lengthAdjust="spacingAndGlyphs">PP/N231D</text>
<text transform="translate(194.95 911.2) rotate(-90)" font-size="11.6" text-anchor="end" textLength="32.5" lengthAdjust="spacingAndGlyphs">N231I</text>
<text transform="translate(216.64 911.2) rotate(-90)" font-size="11.6" text-anchor="end" textLength="53.3" lengthAdjust="spacingAndGlyphs">PP/N231I</text>
<text transform="translate(238.33 911.2) rotate(-90)" font-size="11.6" text-anchor="end" textLength="37.5" lengthAdjust="spacingAndGlyphs">E292V</text>
<text transform="translate(260.02 911.2) rotate(-90)" font-size="11.6" text-anchor="end" textLength="57.6" lengthAdjust="spacingAndGlyphs">PP/E292V</text>
<text transform="translate(281.71 911.2) rotate(-90)" font-size="11.6" text-anchor="end" textLength="75.1" lengthAdjust="spacingAndGlyphs">N231I/E292V</text>
<text transform="translate(303.4 911.2) rotate(-90)" font-size="11.6" text-anchor="end" textLength="95.1" lengthAdjust="spacingAndGlyphs">PP/N231I/E292V</text>
<text transform="translate(325.09 911.2) rotate(-90)" font-size="11.6" text-anchor="end" textLength="38.4" lengthAdjust="spacingAndGlyphs">G144E</text>
<text transform="translate(346.78 911.2) rotate(-90)" font-size="11.6" text-anchor="end" textLength="59.3" lengthAdjust="spacingAndGlyphs">PP/G144E</text>
<text transform="translate(368.47 911.2) rotate(-90)" font-size="11.6" text-anchor="end" textLength="38.2" lengthAdjust="spacingAndGlyphs">E123Q</text>
<text transform="translate(390.16 911.2) rotate(-90)" font-size="11.6" text-anchor="end" textLength="59.3" lengthAdjust="spacingAndGlyphs">PP/E123Q</text>
<text transform="translate(411.85 911.2) rotate(-90)" font-size="11.6" text-anchor="end" textLength="36.7" lengthAdjust="spacingAndGlyphs">A196V</text>
<text transform="translate(433.54 911.2) rotate(-90)" font-size="11.6" text-anchor="end" textLength="57.8" lengthAdjust="spacingAndGlyphs">PP/A196V</text>
</g>
<g id="patients-bottom">
<line x1="134.4" y1="1014.8" x2="175.6" y2="1014.8" stroke="#000" stroke-width="1.4"/>
<line x1="181.7" y1="1014.8" x2="307" y2="1014.8" stroke="#000" stroke-width="1.4"/>
<line x1="311.5" y1="1014.8" x2="353" y2="1014.8" stroke="#000" stroke-width="1.4"/>
<line x1="357" y1="1014.8" x2="398" y2="1014.8" stroke="#000" stroke-width="1.4"/>
<line x1="402.3" y1="1014.8" x2="443.3" y2="1014.8" stroke="#000" stroke-width="1.4"/>
<text transform="translate(114.5 1077.2) rotate(-45)" font-size="17" text-anchor="start">Patient 1</text>
<text transform="translate(204.4 1077.2) rotate(-45)" font-size="17" text-anchor="start">Patient 5</text>
<text transform="translate(292.7 1077.2) rotate(-45)" font-size="17" text-anchor="start">Patient 6</text>
<text transform="translate(338.7 1077.2) rotate(-45)" font-size="17" text-anchor="start">Patient 7</text>
<text transform="translate(380.9 1077.2) rotate(-45)" font-size="17" text-anchor="start">Patient 3</text>
</g>
</svg></body></html>
